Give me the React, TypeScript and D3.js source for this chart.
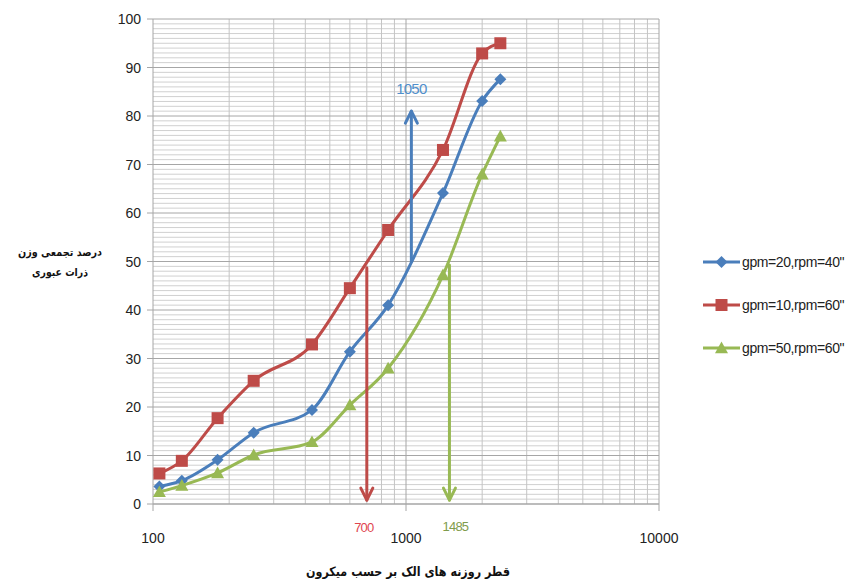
import React from "react";
import * as d3 from "d3";

const sizes = [106, 130, 180, 250, 425, 600, 850, 1400, 2000, 2360];
const blueVals = [3.6, 4.8, 9.1, 14.7, 19.4, 31.4, 41.0, 64.1, 83.1, 87.6];
const redVals = [6.3, 8.9, 17.7, 25.4, 32.9, 44.5, 56.5, 73.0, 92.9, 95.0];
const greenVals = [2.5, 3.8, 6.4, 10.1, 12.8, 20.4, 28.0, 47.2, 68.0, 75.8];
const seriesNames = ['gpm=20,rpm=40"', 'gpm=10,rpm=60"', 'gpm=50,rpm=60"'];
const yTicks = [0, 10, 20, 30, 40, 50, 60, 70, 80, 90, 100];
const xTicks = [100, 1000, 10000];
const arrowX = [1050, 700, 1485];
const arrowFrom = [50, 48.7, 49.3];
const arrowTo = [81, 0.8, 0.8];
const arrowLabels = ["1050", "700", "1485"];
const yTitle = ["درصد تجمعی وزن", "ذرات عبوری"];
const xTitle = "قطر روزنه های الک بر حسب میکرون";

const W = 850, H = 583;
const L = 153, R = 659, T = 19, B = 504;

export default function App() {
  const x = d3.scaleLog().domain([100, 10000]).range([L, R]);
  const y = d3.scaleLinear().domain([0, 100]).range([B, T]);
  const colors = ["#4a7ebb", "#be4b48", "#98b954"];
  const labelColors = ["#4f8fcc", "#e0454f", "#7f9c4c"];
  const series = [blueVals, redVals, greenVals];
  const line = d3
    .line<[number, number]>()
    .x((d) => x(d[0]))
    .y((d) => y(d[1]))
    .curve(d3.curveMonotoneX);

  const minorX: number[] = [];
  for (let dec = 100; dec < 10000; dec *= 10) {
    for (let k = 2; k <= 9; k++) minorX.push(dec * k);
  }
  const minorY = d3.range(0, 101, 1).filter((v) => v % 10 !== 0);

  const marker = (i: number, cx: number, cy: number, key: string) => {
    const c = colors[i];
    if (i === 0) {
      const s = 6;
      return (
        <path key={key} d={`M${cx},${cy - s}L${cx + s},${cy}L${cx},${cy + s}L${cx - s},${cy}Z`} fill={c} />
      );
    }
    if (i === 1) {
      return <rect key={key} x={cx - 6} y={cy - 6} width={12} height={12} fill={c} />;
    }
    const s = 6.5;
    return (
      <path key={key} d={`M${cx},${cy - s}L${cx + s},${cy + s * 0.8}L${cx - s},${cy + s * 0.8}Z`} fill={c} />
    );
  };

  const legendY = [262, 305, 348];
  const fontNum = "'Liberation Sans', Arial, sans-serif";

  return (
    <div style={{ position: "absolute", left: 0, top: 0 }}>
      <svg width={W} height={H} style={{ display: "block", background: "#fff" }}>
        {minorY.map((v) => (
          <line key={"my" + v} x1={L} x2={R} y1={y(v)} y2={y(v)} stroke="#d0d0d0" strokeWidth={1} />
        ))}
        {minorX.map((v) => (
          <line key={"mx" + v} x1={x(v)} x2={x(v)} y1={T} y2={B} stroke="#c4c4c4" strokeWidth={1} />
        ))}
        <line x1={x(1000)} x2={x(1000)} y1={T} y2={B + 7} stroke="#a6a6a6" strokeWidth={1} />
        {yTicks.map((v) => (
          <line key={"y" + v} x1={L - 6} x2={R} y1={y(v)} y2={y(v)} stroke="#a6a6a6" strokeWidth={1} />
        ))}
        <line x1={L} x2={L} y1={T} y2={B + 7} stroke="#a6a6a6" strokeWidth={1} />
        <line x1={R} x2={R} y1={T} y2={B + 7} stroke="#a6a6a6" strokeWidth={1} />
        <line x1={L} x2={R} y1={B} y2={B} stroke="#a6a6a6" strokeWidth={1.2} />

        {yTicks.map((v) => (
          <text key={"yl" + v} x={141} y={y(v) + 5} textAnchor="end" fontSize={14} fill="#222" fontFamily={fontNum}>
            {v}
          </text>
        ))}
        {xTicks.map((v) => (
          <text key={"xl" + v} x={x(v)} y={543} textAnchor="middle" fontSize={14} fill="#222" fontFamily={fontNum}>
            {v}
          </text>
        ))}

        {series.map((vals, i) => {
          const pts: [number, number][] = sizes.map((s, j) => [s, vals[j]]);
          return (
            <g key={"s" + i}>
              <path d={line(pts) || ""} fill="none" stroke={colors[i]} strokeWidth={3} />
              {pts.map((p, j) => marker(i, x(p[0]), y(p[1]), `m${i}-${j}`))}
            </g>
          );
        })}

        {arrowX.map((ax, i) => {
          const px = x(ax);
          const y1 = y(arrowFrom[i]);
          const y2 = y(arrowTo[i]);
          const dir = y2 < y1 ? 1 : -1;
          const hw = 6, hl = 12;
          return (
            <g key={"a" + i} stroke={colors[i]} strokeWidth={3} fill="none" strokeLinecap="round">
              <line x1={px} x2={px} y1={y1} y2={y2} />
              <path d={`M${px - hw},${y2 + dir * hl}L${px},${y2}L${px + hw},${y2 + dir * hl}`} strokeLinejoin="round" />
            </g>
          );
        })}
        <text x={x(1050)} y={94} textAnchor="middle" fontSize={15} fill={labelColors[0]} fontFamily={fontNum} letterSpacing={-0.8}>
          {arrowLabels[0]}
        </text>
        <text x={x(700) - 3} y={532} textAnchor="middle" fontSize={13} fill={labelColors[1]} fontFamily={fontNum} letterSpacing={-0.8}>
          {arrowLabels[1]}
        </text>
        <text x={x(1485) + 6} y={531} textAnchor="middle" fontSize={13} fill={labelColors[2]} fontFamily={fontNum} letterSpacing={-0.8}>
          {arrowLabels[2]}
        </text>

        {seriesNames.map((n, i) => (
          <g key={"lg" + i}>
            <line x1={703} x2={740} y1={legendY[i]} y2={legendY[i]} stroke={colors[i]} strokeWidth={3} />
            {marker(i, 721.5, legendY[i], "lm" + i)}
            <text x={742} y={legendY[i] + 5} fontSize={14} fill="#222" fontFamily={fontNum} letterSpacing={-0.4}>
              {n}
            </text>
          </g>
        ))}

        <text x={60} y={256} textAnchor="middle" direction="rtl" fontSize={11} fontWeight="bold" fill="#111" fontFamily="'DejaVu Sans', sans-serif" textLength={84} lengthAdjust="spacingAndGlyphs">
          {yTitle[0]}
        </text>
        <text x={60} y={276} textAnchor="middle" direction="rtl" fontSize={11} fontWeight="bold" fill="#111" fontFamily="'DejaVu Sans', sans-serif" textLength={56} lengthAdjust="spacingAndGlyphs">
          {yTitle[1]}
        </text>
        <text x={408} y={576} textAnchor="middle" direction="rtl" fontSize={13} fontWeight="bold" fill="#111" fontFamily="'DejaVu Sans', sans-serif" textLength={204} lengthAdjust="spacingAndGlyphs">
          {xTitle}
        </text>
      </svg>
    </div>
  );
}
